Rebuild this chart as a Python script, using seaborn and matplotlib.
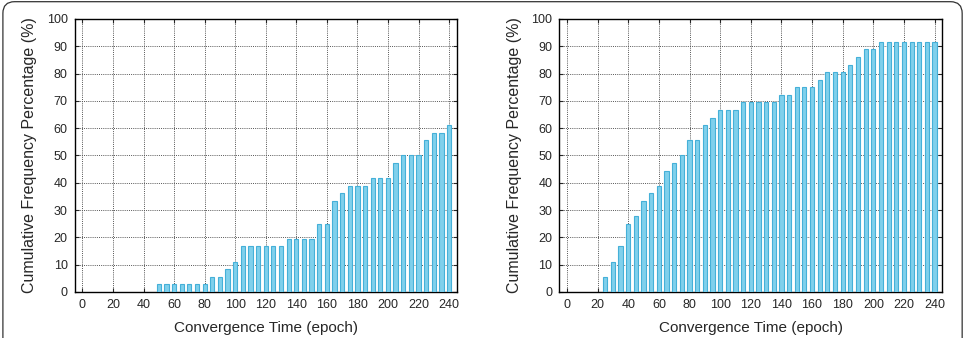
import numpy as np
import pandas as pd
import matplotlib
matplotlib.use('Agg')
import matplotlib.pyplot as plt
from matplotlib.patches import FancyBboxPatch
import seaborn as sns

epochs = list(range(0, 245, 5))

left_pct = [0, 0, 0, 0, 0, 0, 0, 0, 0, 0,
            2.78, 2.78, 2.78, 2.78, 2.78, 2.78, 2.78,
            5.56, 5.56, 8.33, 11.11,
            16.67, 16.67, 16.67, 16.67, 16.67, 16.67,
            19.44, 19.44, 19.44, 19.44,
            25.0, 25.0, 33.33, 36.11,
            38.89, 38.89, 38.89, 41.67, 41.67, 41.67,
            47.22, 50.0, 50.0, 50.0, 55.56, 58.33, 58.33, 61.11]

right_pct = [0, 0, 0, 0, 0,
             5.56, 11.11, 16.67, 25.0, 27.78, 33.33, 36.11, 38.89, 44.44, 47.22, 50.0,
             55.56, 55.56, 61.11, 63.89,
             66.67, 66.67, 66.67,
             69.44, 69.44, 69.44, 69.44, 69.44,
             72.22, 72.22, 75.0, 75.0, 75.0, 77.78,
             80.56, 80.56, 80.56, 83.33, 86.11, 88.89, 88.89,
             91.67, 91.67, 91.67, 91.67, 91.67, 91.67, 91.67, 91.67]

sns.set_style('ticks')
plt.rcParams['font.family'] = ['Liberation Sans', 'DejaVu Sans']

fig = plt.figure(figsize=(9.67, 3.38), dpi=100)
frame = FancyBboxPatch((0.003, -0.05), 0.992, 1.045, boxstyle='round,pad=0,rounding_size=0.012',
                       transform=fig.transFigure, fill=False, ec='#333333', lw=0.9, mutation_aspect=967/338)
fig.patches.append(frame)

ax1 = fig.add_axes([0.0773, 0.1361, 0.395, 0.8077])
ax2 = fig.add_axes([0.5784, 0.1361, 0.396, 0.8077])

for ax, vals in [(ax1, left_pct), (ax2, right_pct)]:
    df = pd.DataFrame({'epoch': epochs, 'pct': vals})
    df = df[df['pct'] > 0]
    sns.barplot(data=df, x='epoch', y='pct', native_scale=True, width=0.55,
                color='#80d0ec', edgecolor='#45b0d8', linewidth=0.8, saturation=1, ax=ax, zorder=3)
    ax.set_xlim(-5, 245)
    ax.set_ylim(0, 100)
    ax.set_xticks(range(0, 241, 20))
    ax.set_yticks(range(0, 101, 10))
    ax.grid(True, ls=(0, (1, 1.2)), color='#555555', lw=0.7, zorder=0)
    ax.set_axisbelow(True)
    ax.tick_params(direction='in', length=3, width=0.8, labelsize=9, top=True, right=True, pad=5)
    for s in ax.spines.values():
        s.set_linewidth(1.0)
        s.set_color('black')
    ax.set_xlabel('Convergence Time (epoch)', fontsize=11, labelpad=7)
    ax.set_ylabel('Cumulative Frequency Percentage (%)', fontsize=11.5, labelpad=7)

fig.savefig('out.png', dpi=100)
